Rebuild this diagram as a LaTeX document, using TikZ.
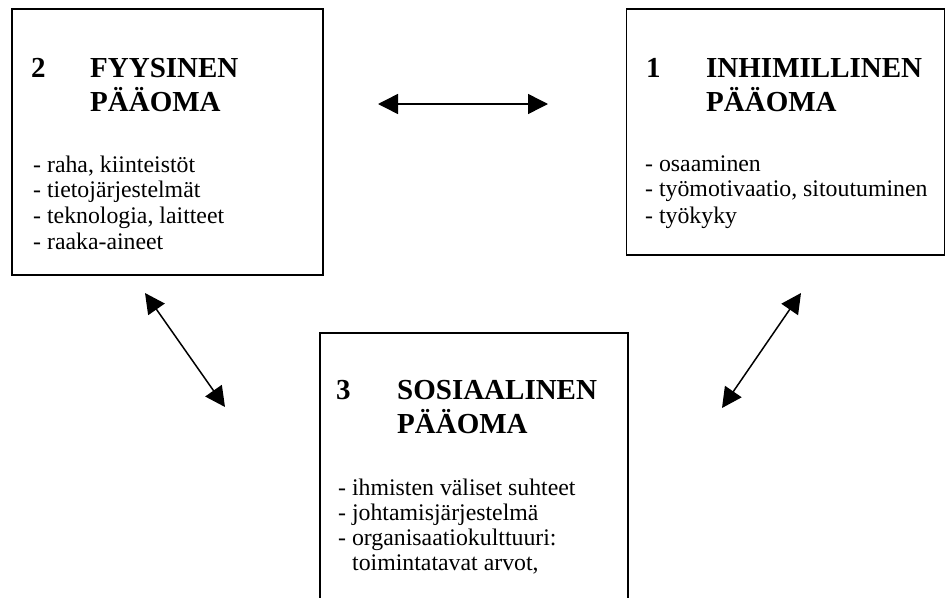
\documentclass[tikz,border=0pt]{standalone}
\usepackage{fontspec}
\setmainfont{Liberation Serif}
\usetikzlibrary{arrows.meta}
\begin{document}
\begin{tikzpicture}[x=1pt,y=-1pt,
  box/.style={draw,line width=1.5pt,inner sep=0pt,anchor=north west},
  head/.style={anchor=base west,inner sep=0pt,font=\fontsize{29}{34}\selectfont\bfseries},
  item/.style={anchor=base west,inner sep=0pt,font=\fontsize{23.8}{26}\selectfont},
  link/.style={line width=1.5pt,{Triangle[length=20pt,width=20pt]}-{Triangle[length=20pt,width=20pt]}}]
\useasboundingbox (0,0) rectangle (945,597);
\clip (0,0) rectangle (945,597);
% boxes
\node[box,minimum width=311pt,minimum height=266pt] (b2) at (11,8) {};
\node[box,minimum width=318pt,minimum height=246pt] (b1) at (625.5,8) {};
\node[box,minimum width=308pt,minimum height=300pt] (b3) at (319,332) {};
% box 2
\node[head] (n2) at (31,77) {2};
\node[head] (t2a) at (90,77) {FYYSINEN};
\node[head] (t2b) at (90,111) {PÄÄOMA};
\node[item] (i2a) at (33,172) {- raha, kiinteistöt};
\node[item] (i2b) at (33,197) {- tietojärjestelmät};
\node[item] (i2c) at (33,223) {- teknologia, laitteet};
\node[item] (i2d) at (33,249) {- raaka-aineet};
% box 1
\node[head] (n1) at (646,77) {1};
\node[head] (t1a) at (706,77) {INHIMILLINEN};
\node[head] (t1b) at (706,111) {PÄÄOMA};
\node[item] (i1a) at (645,171) {- osaaminen};
\node[item] (i1b) at (645,196) {- työmotivaatio, sitoutuminen};
\node[item] (i1c) at (645,223) {- työkyky};
% box 3
\node[head] (n3) at (336,399) {3};
\node[head] (t3a) at (397,399) {SOSIAALINEN};
\node[head] (t3b) at (397,433) {PÄÄOMA};
\node[item] (i3a) at (338,495) {- ihmisten väliset suhteet};
\node[item] (i3b) at (338,520) {- johtamisjärjestelmä};
\node[item] (i3c) at (338,545) {- organisaatiokulttuuri:};
\node[item] (i3d) at (352,570) {toimintatavat arvot,};
% arrows
\coordinate (h1) at (378,104);
\coordinate (h2) at (548,104);
\coordinate (l1) at (145,293);
\coordinate (l2) at (225,407);
\coordinate (r1) at (801,293);
\coordinate (r2) at (722,408);
\draw[link] (h1) -- (h2);
\draw[link] (l1) -- (l2);
\draw[link] (r1) -- (r2);
\end{tikzpicture}
\end{document}
